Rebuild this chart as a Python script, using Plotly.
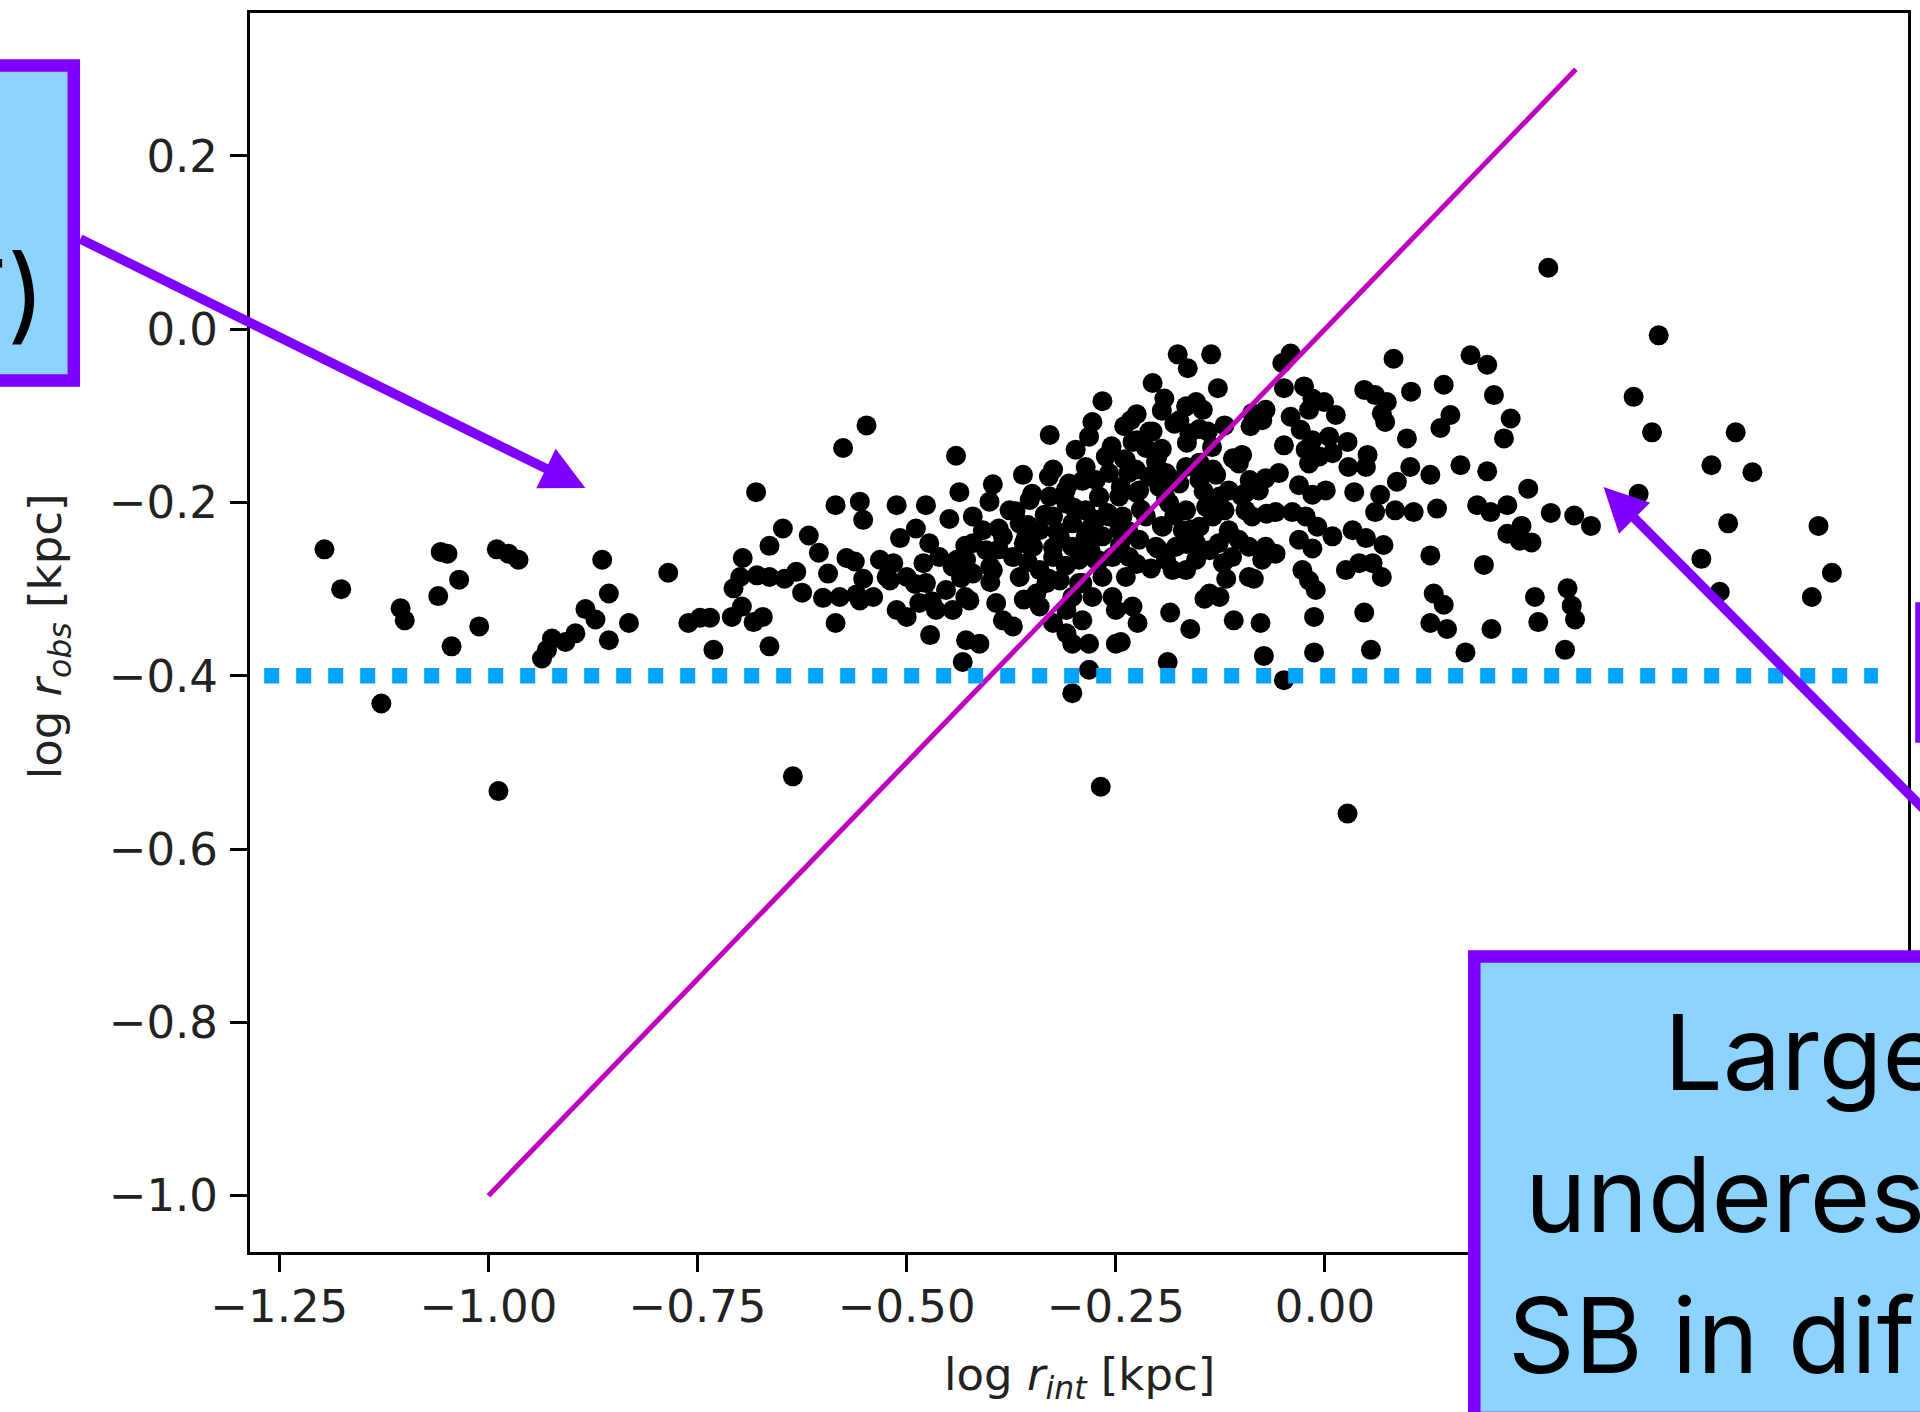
import math
import plotly.graph_objects as go

# ---------------- data ----------------
log_r_int = [
    -1.196, -1.176, -1.105, -1.100, -1.128, -1.060, -1.035, -1.057, -1.049, -1.011,
    -1.044, -0.988, -0.990, -0.976, -0.964, -0.864, -0.856, -0.884, -0.872, -0.832,
    -0.856, -0.896, -0.908, -0.924, -0.930, -0.936, -0.785, -0.761, -0.747, -0.735,
    -0.731,
    -0.680, -0.576, -0.548, -0.441, -0.329, -0.266, -0.278, -0.282, -0.298, -0.325,
    -0.361, -0.397, -0.437, -0.401, -0.449, -0.477, -0.512, -0.556, -0.552, -0.585,
    -0.648, -0.664, -0.617, -0.605, -0.696, -0.707, -0.699, -0.679, -0.664, -0.646,
    -0.632, -0.625, -0.697, -0.709, -0.683, -0.672, -0.664, -0.585, -0.594, -0.572,
    -0.562, -0.580, -0.552, -0.556, -0.540, -0.532, -0.508, -0.489, -0.516, -0.524,
    -0.500, -0.512, -0.500, -0.485, -0.473, -0.461, -0.477, -0.453, -0.465, -0.445,
    -0.472, -0.429, -0.413, -0.433, -0.445, -0.429, -0.421, -0.409, -0.421, -0.405,
    -0.421, -0.397, -0.425, -0.393, -0.385, -0.373, -0.377, -0.365, -0.385, -0.373,
    -0.365, -0.349, -0.341, -0.345, -0.341, -0.329, -0.325, -0.309, -0.302, -0.317,
    -0.325, -0.302, -0.317, -0.325, -0.309, -0.302, -0.290, -0.282, -0.282, -0.302,
    -0.250, -0.250, -0.286, -0.270, -0.258, -0.266, -0.286, -0.262, -0.258, -0.274,
    -0.294, -0.266, -0.278, -0.302, -0.636, -0.268,
    -0.254, -0.274, -0.341, -0.357, -0.294, -0.254, -0.309, -0.333, -0.246, -0.246,
    -0.306, -0.286, -0.353, -0.274,
    -0.176, -0.164, -0.136, -0.051, -0.041, -0.206, -0.192, -0.128, -0.049, -0.025,
    -0.015, -0.001, 0.013, -0.019, -0.154, -0.146, -0.166, -0.174, -0.162, -0.140,
    -0.232, -0.206, -0.230, -0.214, -0.202, -0.238, -0.226, -0.099, -0.103, -0.087,
    -0.075, -0.071, -0.089, -0.041, -0.029, -0.049, -0.015, 0.005, -0.023, -0.007,
    0.009, -0.019, 0.027, 0.051, 0.049, 0.028, 0.047, 0.060, 0.074, 0.068,
    0.072, 0.082, 0.103, 0.098, 0.142, 0.174, 0.194, 0.202, 0.150, 0.138,
    0.222, 0.214, 0.102, 0.126, 0.162, 0.194, 0.086, 0.066, 0.035, 0.060,
    0.084, 0.106, 0.134, 0.182, 0.198, 0.218, 0.218, 0.126, 0.190, 0.070,
    0.049, 0.033, 0.009, 0.001, -0.031, -0.015, -0.059, -0.039, -0.023, -0.009,
    -0.031, -0.015, -0.071, -0.059, -0.075, -0.055, -0.071, -0.079, -0.095, -0.115,
    -0.095, -0.087, -0.115, -0.103, -0.091, -0.127, -0.111, -0.122, -0.091, -0.085,
    -0.118, -0.138, -0.126, -0.144, 0.025, 0.041, 0.057, 0.068, -0.027, -0.019,
    -0.011, -0.013, 0.047, 0.130, 0.142, 0.126, 0.146, 0.199, 0.168, 0.055,
    -0.013, -0.073, -0.049, -0.077, -0.109, -0.161, -0.185, -0.188, -0.224, -0.230,
    -0.244, -0.208, -0.182, -0.166, -0.238, 0.027,
    -0.222, -0.198, -0.174, -0.150, -0.134, -0.186, -0.166, -0.142, -0.126, -0.214,
    -0.194, -0.170, -0.150, -0.134, -0.222, -0.202, -0.178, -0.154, -0.138, -0.234,
    -0.190, -0.154, -0.166, -0.190, -0.210, -0.242, -0.240, -0.244,
    0.267, 0.399, 0.369, 0.391, 0.491, 0.462, 0.511, 0.375, 0.243, 0.270,
    0.298, 0.318, 0.235, 0.247, 0.233, 0.482, 0.590, 0.606, 0.582, 0.450,
    0.472, 0.251, 0.290, 0.295, 0.299, 0.255, 0.287,
    # dense core of the cloud
    -0.240, -0.200, -0.150, -0.110,
    -0.330, -0.290, -0.235, -0.185, -0.130, -0.090,
    -0.350, -0.310, -0.270, -0.225, -0.190, -0.145, -0.100,
    -0.370, -0.335, -0.300, -0.260, -0.220, -0.180, -0.120, -0.070,
    -0.390, -0.355, -0.320, -0.280, -0.235, -0.195, -0.160, -0.115,
    -0.430, -0.390, -0.360, -0.325, -0.280, -0.245, -0.200, -0.165,
    -0.480, -0.440, -0.400, -0.355, -0.310, -0.270, -0.225,
    -0.520, -0.490, -0.435, -0.400, -0.330, -0.290,
    -0.600, -0.560, -0.470, -0.430, -0.360,
    -0.255, -0.225, -0.195, -0.165, -0.135,
    -0.240, -0.210, -0.180, -0.150, -0.120,
    -0.225, -0.195,
]

log_r_obs = [
    -0.254, -0.300, -0.322, -0.336, -0.432, -0.308, -0.289, -0.257, -0.259, -0.343,
    -0.366, -0.533, -0.254, -0.259, -0.266, -0.266, -0.305, -0.323, -0.335, -0.339,
    -0.359, -0.351, -0.361, -0.357, -0.370, -0.380, -0.281, -0.339, -0.333, -0.333,
    -0.370,
    -0.188, -0.137, -0.111, -0.146, -0.122, -0.083, -0.107, -0.124, -0.139, -0.162,
    -0.168, -0.179, -0.188, -0.199, -0.219, -0.203, -0.203, -0.199, -0.220, -0.203,
    -0.230, -0.250, -0.238, -0.258, -0.264, -0.299, -0.286, -0.284, -0.286, -0.288,
    -0.280, -0.304, -0.320, -0.332, -0.338, -0.332, -0.366, -0.339, -0.282, -0.264,
    -0.268, -0.309, -0.288, -0.313, -0.309, -0.266, -0.241, -0.230, -0.270, -0.286,
    -0.286, -0.324, -0.332, -0.316, -0.247, -0.263, -0.293, -0.301, -0.324, -0.324,
    -0.353, -0.359, -0.363, -0.384, -0.274, -0.266, -0.216, -0.232, -0.247, -0.255,
    -0.282, -0.278, -0.313, -0.316, -0.336, -0.343, -0.209, -0.224, -0.239, -0.263,
    -0.286, -0.251, -0.278, -0.305, -0.320, -0.193, -0.216, -0.201, -0.224, -0.239,
    -0.263, -0.251, -0.290, -0.339, -0.351, -0.363, -0.336, -0.363, -0.393, -0.420,
    -0.363, -0.324, -0.209, -0.193, -0.216, -0.239, -0.239, -0.147, -0.166, -0.174,
    -0.266, -0.286, -0.309, -0.309, -0.516, -0.528,
    -0.263, -0.266, -0.232, -0.239, -0.293, -0.309, -0.324, -0.293, -0.232, -0.193,
    -0.178, -0.159, -0.197, -0.220,
    -0.029, -0.045, -0.029, -0.039, -0.028, -0.062, -0.080, -0.068, -0.068, -0.066,
    -0.080, -0.084, -0.099, -0.093, -0.084, -0.093, -0.089, -0.105, -0.120, -0.118,
    -0.105, -0.118, -0.130, -0.137, -0.153, -0.151, -0.162, -0.145, -0.155, -0.097,
    -0.105, -0.093, -0.112, -0.101, -0.116, -0.134, -0.128, -0.124, -0.139, -0.147,
    -0.143, -0.155, -0.130, -0.145, -0.159, -0.159, -0.070, -0.076, -0.084, -0.097,
    -0.107, -0.034, -0.072, -0.126, -0.064, -0.030, -0.041, -0.076, -0.099, -0.114,
    -0.103, -0.126, -0.159, -0.168, -0.157, -0.164, -0.176, -0.191, -0.188, -0.211,
    -0.209, -0.211, -0.207, -0.203, -0.211, -0.203, -0.236, -0.261, -0.272, -0.249,
    -0.241, -0.232, -0.239, -0.186, -0.180, -0.191, -0.211, -0.211, -0.216, -0.228,
    -0.243, -0.253, -0.251, -0.259, -0.266, -0.166, -0.172, -0.186, -0.189, -0.186,
    -0.209, -0.216, -0.232, -0.243, -0.251, -0.247, -0.263, -0.270, -0.286, -0.288,
    -0.288, -0.305, -0.309, -0.311, -0.278, -0.270, -0.270, -0.286, -0.278, -0.290,
    -0.301, -0.332, -0.327, -0.305, -0.318, -0.339, -0.346, -0.346, -0.373, -0.370,
    -0.373, -0.377, -0.405, -0.339, -0.336, -0.346, -0.327, -0.384, -0.339, -0.320,
    -0.361, -0.276, -0.278, -0.278, -0.286, -0.559,
    -0.186, -0.182, -0.178, -0.174, -0.162, -0.201, -0.209, -0.205, -0.193, -0.216,
    -0.228, -0.232, -0.228, -0.216, -0.243, -0.251, -0.251, -0.247, -0.255, -0.263,
    -0.266, -0.266, -0.159, -0.166, -0.170, -0.216, -0.239, -0.182,
    0.071, -0.007, -0.078, -0.119, -0.119, -0.157, -0.165, -0.190, -0.184, -0.212,
    -0.215, -0.227, -0.227, -0.246, -0.244, -0.224, -0.227, -0.281, -0.309, -0.265,
    -0.303, -0.309, -0.299, -0.319, -0.335, -0.338, -0.370,
    # dense core of the cloud
    -0.150, -0.146, -0.154, -0.149,
    -0.170, -0.175, -0.166, -0.172, -0.168, -0.174,
    -0.190, -0.186, -0.194, -0.189, -0.195, -0.187, -0.192,
    -0.210, -0.214, -0.206, -0.212, -0.208, -0.215, -0.209, -0.213,
    -0.230, -0.226, -0.234, -0.229, -0.233, -0.227, -0.231, -0.235,
    -0.250, -0.254, -0.247, -0.252, -0.256, -0.249, -0.253, -0.248,
    -0.270, -0.266, -0.274, -0.269, -0.273, -0.267, -0.271,
    -0.290, -0.294, -0.287, -0.292, -0.288, -0.293,
    -0.310, -0.306, -0.314, -0.309, -0.312,
    -0.135, -0.128, -0.138, -0.131, -0.136,
    -0.112, -0.118, -0.109, -0.115, -0.111,
    -0.098, -0.094,
]

one_to_one_x = [-1.0, 0.3]
one_to_one_y = [-1.0, 0.3]
limit_x = [-1.268, 0.661]
limit_y = [-0.4, -0.4]

x_tick_vals = [-1.25, -1.0, -0.75, -0.5, -0.25, 0.0, 0.25, 0.5]
x_tick_text = ["\u22121.25", "\u22121.00", "\u22120.75", "\u22120.50", "\u22120.25", "0.00", "0.25", "0.50"]
y_tick_vals = [-1.0, -0.8, -0.6, -0.4, -0.2, 0.0, 0.2]
y_tick_text = ["\u22121.0", "\u22120.8", "\u22120.6", "\u22120.4", "\u22120.2", "0.0", "0.2"]

x_title = "log <i>r</i><sub><i>int</i></sub> [kpc]"
y_title = "log <i>r</i><sub><i>obs</i></sub> [kpc]"
left_box_text = "T)"
right_box_lines = ["Large", "underes", "SB in dif"]

# ---------------- layout helpers (figure pixels -> paper) ----------------
FIG_W, FIG_H = 1920, 1412
L, R, T, B = 250, 9, 13, 160
W, H = FIG_W - L - R, FIG_H - T - B


def px(X):
    return (X - L) / W


def py(Y):
    return 1 - (Y - T) / H


BOX_FILL = "#8CD4FE"
BOX_LINE = "#8000FF"
ARROW = "#7F00FF"
TICK_FONT = dict(family="DejaVu Sans", size=45, color="#222222")

fig = go.Figure()
fig.add_trace(go.Scatter(
    x=log_r_int, y=log_r_obs, mode="markers",
    marker=dict(color="black", size=20, line=dict(width=0)),
    showlegend=False, hoverinfo="skip"))
fig.add_trace(go.Scatter(
    x=one_to_one_x, y=one_to_one_y, mode="lines",
    line=dict(color="#BF00BF", width=5), showlegend=False, hoverinfo="skip"))
fig.add_trace(go.Scatter(
    x=limit_x, y=limit_y, mode="lines",
    line=dict(color="#00A2FF", width=15.5, dash="15px,17px"),
    showlegend=False, hoverinfo="skip"))

axis_common = dict(
    showgrid=False, zeroline=False, showline=True, mirror=True,
    linecolor="black", linewidth=3, ticks="outside", ticklen=17,
    tickwidth=2.5, tickcolor="black", tickfont=TICK_FONT)

fig.update_xaxes(range=[-1.285, 0.697], tickmode="array",
                 tickvals=x_tick_vals, ticktext=x_tick_text,
                 ticklabelstandoff=-4, **axis_common)
fig.update_yaxes(range=[-1.065, 0.365], tickmode="array",
                 tickvals=y_tick_vals, ticktext=y_tick_text,
                 ticklabelstandoff=3, **axis_common)


def box(x0, x1, y0, y1):
    return dict(type="rect", xref="paper", yref="paper",
                x0=px(x0), x1=px(x1), y0=py(y1), y1=py(y0),
                fillcolor=BOX_FILL, line=dict(color=BOX_LINE, width=12.5),
                layer="above")


def arrow(tail, tip, width=9.5, head_len=44.0, head_w=44.0):
    dx, dy = tip[0] - tail[0], tip[1] - tail[1]
    n = math.hypot(dx, dy)
    ux, uy = dx / n, dy / n
    bx, by = tip[0] - head_len * ux, tip[1] - head_len * uy
    nx, ny = -uy, ux
    c1 = (bx + head_w / 2 * nx, by + head_w / 2 * ny)
    c2 = (bx - head_w / 2 * nx, by - head_w / 2 * ny)
    ex, ey = tip[0] - (head_len - 4) * ux, tip[1] - (head_len - 4) * uy
    shaft = dict(type="line", xref="paper", yref="paper",
                 x0=px(tail[0]), y0=py(tail[1]), x1=px(ex), y1=py(ey),
                 line=dict(color=ARROW, width=width), layer="above")
    path = "M{},{} L{},{} L{},{} Z".format(
        px(tip[0]), py(tip[1]), px(c1[0]), py(c1[1]), px(c2[0]), py(c2[1]))
    head = dict(type="path", xref="paper", yref="paper", path=path,
                fillcolor=ARROW, line=dict(color=ARROW, width=0), layer="above")
    return [shaft, head]


shapes = [
    box(-150, 73.5, 65.5, 380.5),
    box(1476.5, 2200, 956.5, 1418),
    box(1924.5, 2300, 608.5, 736.5),
]
shapes += arrow((80, 239), (586, 488))
shapes += arrow((2120, 1003), (1606, 487))

BOX_FONT = dict(family="Inter", size=104, color="black")
annotations = [
    # axis titles
    dict(x=0.5, y=py(1377), xref="paper", yref="paper", text=x_title,
         showarrow=False, xanchor="center", yanchor="middle",
         font=dict(family="DejaVu Sans", size=45, color="#222222")),
    dict(x=px(48), y=py(636), xref="paper", yref="paper", text=y_title,
         showarrow=False, xanchor="center", yanchor="middle", textangle=-90,
         font=dict(family="DejaVu Sans", size=45, color="#222222")),
    # box texts
    dict(x=px(47), y=py(297), xref="paper", yref="paper", text=left_box_text,
         showarrow=False, xanchor="right", yanchor="middle", font=BOX_FONT),
    dict(x=px(1665), y=py(1052), xref="paper", yref="paper", text=right_box_lines[0],
         showarrow=False, xanchor="left", yanchor="middle", font=BOX_FONT),
    dict(x=px(1525), y=py(1194), xref="paper", yref="paper", text=right_box_lines[1],
         showarrow=False, xanchor="left", yanchor="middle", font=BOX_FONT),
    dict(x=px(1508), y=py(1335), xref="paper", yref="paper", text=right_box_lines[2],
         showarrow=False, xanchor="left", yanchor="middle", font=BOX_FONT),
]

fig.update_layout(
    width=FIG_W, height=FIG_H,
    margin=dict(l=L, r=R, t=T, b=B, pad=0),
    paper_bgcolor="white", plot_bgcolor="white",
    shapes=shapes, annotations=annotations,
    showlegend=False,
)

fig.write_html("out.html")
